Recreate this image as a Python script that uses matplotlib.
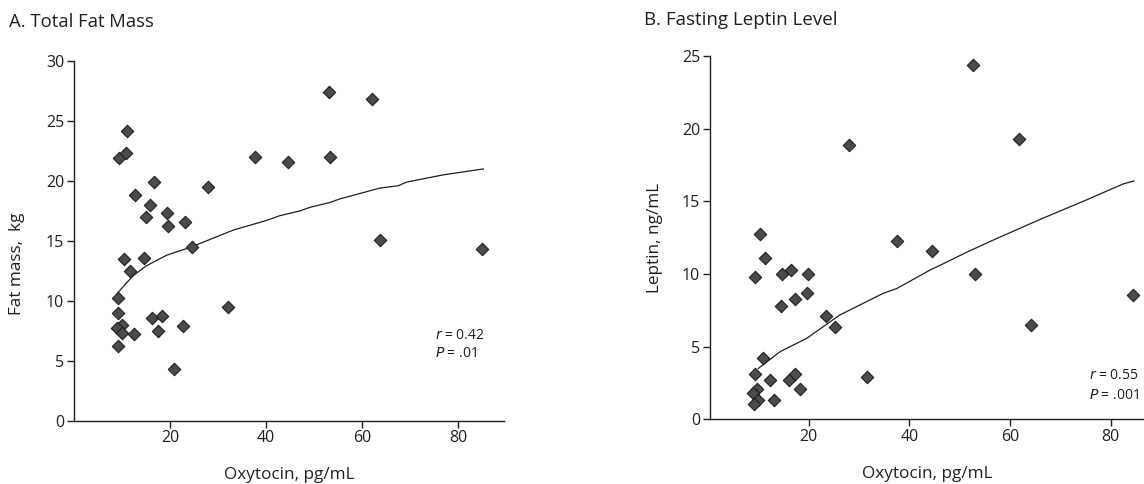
import matplotlib
matplotlib.use("Agg")
import matplotlib.pyplot as plt

plt.rcParams['font.family'] = ['Open Sans', 'DejaVu Sans']
plt.rcParams['text.color'] = '#231f20'
plt.rcParams['axes.labelcolor'] = '#231f20'
plt.rcParams['xtick.color'] = '#231f20'
plt.rcParams['ytick.color'] = '#231f20'

# Panel A: oxytocin vs total fat mass
oxy_a = [9.4, 10.8, 11.0, 12.7, 16.7, 15.9, 14.9, 19.4, 19.6, 23.1, 24.5, 27.9,
         37.8, 44.6, 53.1, 53.3, 62.1, 63.8, 85.0, 10.5, 14.5, 11.7, 9.25, 9.1,
         10.0, 8.9, 10.1, 12.4, 9.25, 16.25, 18.3, 17.6, 22.7, 20.8, 32.0]
fat_a = [21.9, 22.3, 24.2, 18.8, 19.9, 18.0, 17.0, 17.3, 16.2, 16.6, 14.5, 19.5,
         22.0, 21.6, 27.4, 22.0, 26.8, 15.1, 14.3, 13.5, 13.6, 12.5, 10.2, 9.0,
         8.0, 7.7, 7.3, 7.2, 6.2, 8.6, 8.7, 7.5, 7.9, 4.3, 9.5]
fit_a_x = [9.0, 10.5, 12.35, 15.0, 19.3, 24.5, 33.2, 40.1, 42.9, 47.1, 49.2,
           53.3, 55.4, 63.75, 67.6, 69.3, 76.9, 85.3]
fit_a_y = [10.6, 11.3, 12.1, 12.9, 13.8, 14.5, 15.9, 16.7, 17.1, 17.5, 17.8,
           18.2, 18.5, 19.4, 19.6, 19.9, 20.5, 21.0]

# Panel B: oxytocin vs fasting leptin
oxy_b = [27.95, 10.4, 37.5, 11.3, 9.4, 14.7, 16.4, 19.9, 19.6, 17.2, 14.6, 23.4,
         25.3, 10.9, 9.4, 12.3, 16.0, 17.3, 18.2, 31.5, 9.7, 8.9, 10.0, 9.2, 13.05,
         52.7, 61.85, 44.4, 53.0, 64.2, 84.5]
lep_b = [18.9, 12.75, 12.3, 11.1, 9.8, 10.0, 10.3, 10.0, 8.67, 8.3, 7.78, 7.1,
         6.35, 4.2, 3.1, 2.68, 2.68, 3.1, 2.09, 2.9, 2.09, 1.79, 1.33, 1.05, 1.33,
         24.4, 19.27, 11.6, 10.0, 6.5, 8.57]
fit_b_x = [10.0, 14.3, 19.6, 26.2, 34.8, 37.5, 44.1, 46.1, 51.4, 57.4, 66.0,
           75.2, 78.5, 82.5, 84.6]
fit_b_y = [3.5, 4.65, 5.57, 7.18, 8.67, 9.0, 10.27, 10.6, 11.5, 12.45, 13.76,
           15.1, 15.6, 16.2, 16.4]

W, H = 1144, 484
fig = plt.figure(figsize=(W / 100, H / 100), dpi=100)

ax_a = fig.add_axes([74 / W, 63.3 / H, 430 / W, 359.7 / H])
ax_b = fig.add_axes([710 / W, 64.7 / H, 434 / W, 363.3 / H])

mk = dict(marker='D', s=40, facecolor='#4b4b4b', edgecolor='#1e1e1e',
          linewidths=0.8, zorder=3)

for ax in (ax_a, ax_b):
    for side in ('top', 'right'):
        ax.spines[side].set_visible(False)
    for side in ('left', 'bottom'):
        ax.spines[side].set_linewidth(1.0)
        ax.spines[side].set_color('#231f20')
    ax.tick_params(direction='out', length=5, width=1.0, labelsize=11.5, pad=2)

ax_a.scatter(oxy_a, fat_a, **mk)
ax_a.plot(fit_a_x, fit_a_y, color='#1e1e1e', lw=0.9, zorder=2)
ax_a.set_xlim(0, 89.6)
ax_a.set_ylim(0, 30)
ax_a.set_xticks([20, 40, 60, 80])
ax_a.set_yticks([0, 5, 10, 15, 20, 25, 30])
ax_a.set_xlabel('Oxytocin, pg/mL', fontsize=12.3)
ax_a.set_ylabel('Fat mass,  kg', fontsize=12.3)
ax_a.yaxis.set_label_coords(-0.114, 0.436)
ax_a.xaxis.set_label_coords(0.5, -0.129)
ax_a.text(75.2, 7.1, r'$\it{r}$ = 0.42', fontsize=10, va='center')
ax_a.text(75.2, 5.6, r'$\it{P}$ = .01', fontsize=10, va='center')

ax_b.scatter(oxy_b, lep_b, **mk)
ax_b.plot(fit_b_x, fit_b_y, color='#1e1e1e', lw=0.9, zorder=2)
ax_b.set_xlim(0.4, 86.6)
ax_b.set_ylim(0, 25)
ax_b.set_xticks([20, 40, 60, 80])
ax_b.set_yticks([0, 5, 10, 15, 20, 25])
ax_b.set_xlabel('Oxytocin, pg/mL', fontsize=12.3)
ax_b.set_ylabel('Leptin, ng/mL', fontsize=12.3)
ax_b.yaxis.set_label_coords(-0.108, 0.5)
ax_b.xaxis.set_label_coords(0.5, -0.128)
ax_b.text(75.7, 2.98, r'$\it{r}$ = 0.55', fontsize=10, va='center')
ax_b.text(75.7, 1.67, r'$\it{P}$ = .001', fontsize=10, va='center')

fig.text(9 / W, 1 - 22 / H, 'A. Total Fat Mass', fontsize=13.3, va='center')
fig.text(644 / W, 1 - 20 / H, 'B. Fasting Leptin Level', fontsize=13.5, va='center')

fig.savefig('out.png', dpi=100)
